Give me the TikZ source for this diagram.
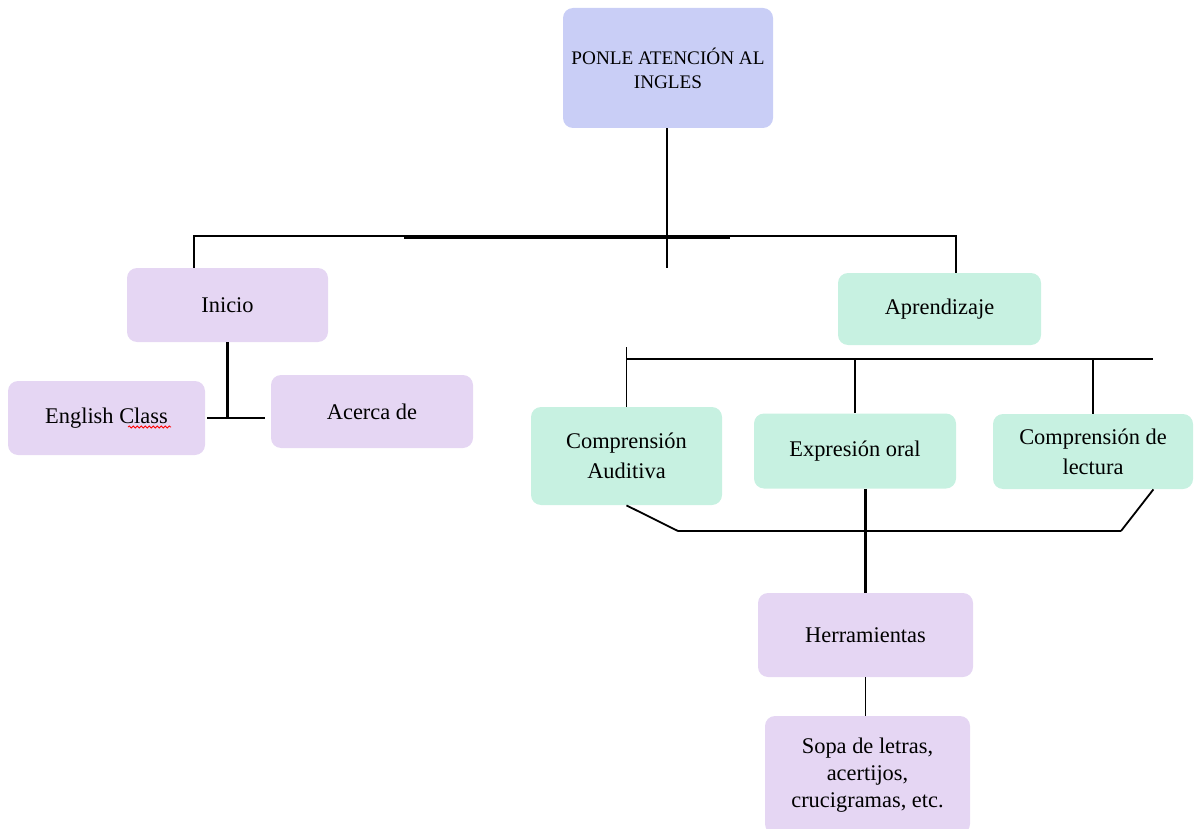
\documentclass[tikz,border=0pt]{standalone}
\usepackage{fontspec}
\setmainfont{Liberation Serif}
\usepackage{xcolor}
\usetikzlibrary{calc}
\usetikzlibrary{decorations.pathmorphing}
\definecolor{titlefill}{RGB}{201,206,246}
\definecolor{lilac}{RGB}{229,214,243}
\definecolor{mint}{RGB}{199,241,225}

\begin{document}
\begin{tikzpicture}[x=0.5pt,y=-0.5pt,
    box/.style={rounded corners=5pt,align=center,inner sep=2pt,
        font=\fontsize{11.2}{15}\selectfont},
    link/.style={line width=1.4pt},
    thin link/.style={line width=0.9pt}]
\useasboundingbox (0,0) rectangle (1200,829);

% Boxes
\node[box,fill=titlefill,minimum width=105pt,minimum height=60pt,
    font=\fontsize{9.6}{12}\selectfont] (title) at (668,68) {PONLE ATENCIÓN AL\\INGLES};
\node[box,fill=lilac,minimum width=100.5pt,minimum height=37pt] (inicio) at (227.5,305) {Inicio};
\node[box,fill=lilac,minimum width=98.5pt,minimum height=37pt] (english) at (106.5,418) {English Class};
\node[box,fill=lilac,minimum width=101pt,minimum height=36.5pt] (acerca) at (372,411.5) {Acerca de};
\node[box,fill=mint,minimum width=101.5pt,minimum height=36pt] (aprendizaje) at (939.5,309) {Aprendizaje};
\node[box,fill=mint,minimum width=95.5pt,minimum height=49pt] (auditiva) at (626.5,456) {Comprensión\\Auditiva};
\node[box,fill=mint,minimum width=101pt,minimum height=37.5pt] (oral) at (855,451) {Expresión oral};
\node[box,fill=mint,minimum width=100pt,minimum height=37.5pt] (lectura) at (1093,451.5) {Comprensión de\\lectura};
\node[box,fill=lilac,minimum width=107.5pt,minimum height=42pt] (herramientas) at (865.5,635) {Herramientas};
\node[box,fill=lilac,minimum width=102.5pt,minimum height=59pt,
    font=\fontsize{11.2}{13.5}\selectfont] (sopa) at (867.5,775) {Sopa de letras,\\acertijos,\\crucigramas, etc.};

% spell check mark
\draw[red,line width=0.4pt,decorate,decoration={snake,amplitude=0.5pt,segment length=2pt}]
    (128,427) -- (171,427);

% Top tree
\coordinate (hub) at (667,236);
\coordinate (lt) at (194,236);
\coordinate (rt) at (956,236);
\draw[link] (title.south -| hub) -- (hub) -- ++(0,32);
\draw[link] (inicio.north -| lt) -- (lt) -- (rt) -- (aprendizaje.north -| rt);
\draw[line width=2.4pt] (404,237) -- (730,237);

% Inicio group
\draw[link] (inicio.south) -- (inicio.south |- english.east);
\draw[link] ($(english.east)+(2,0)$) -- ($(acerca.west |- english.east)+(-6,0)$);

% Aprendizaje group
\coordinate (ra) at (627,359);
\coordinate (rb) at (1153,359);
\draw[link] (ra) -- (rb);
\draw[thin link] (auditiva.north) -- ++(0,-60);
\foreach \n in {oral,lectura} {
    \draw[thin link] (\n.north) -- (\n.north |- ra);
}

% Bottom bracket
\coordinate (bl) at (678,531);
\coordinate (br) at (1121,531);
\draw[thin link] (auditiva.south) -- (bl);
\draw[link] (bl) -- (br);
\draw[thin link] (br) -- ($(lectura.south east)+(-40,0)$);
\draw[link] (oral.south -| herramientas.north) -- (herramientas.north);
\draw[thin link] (herramientas.south) -- (herramientas.south |- sopa.north);
\end{tikzpicture}
\end{document}
